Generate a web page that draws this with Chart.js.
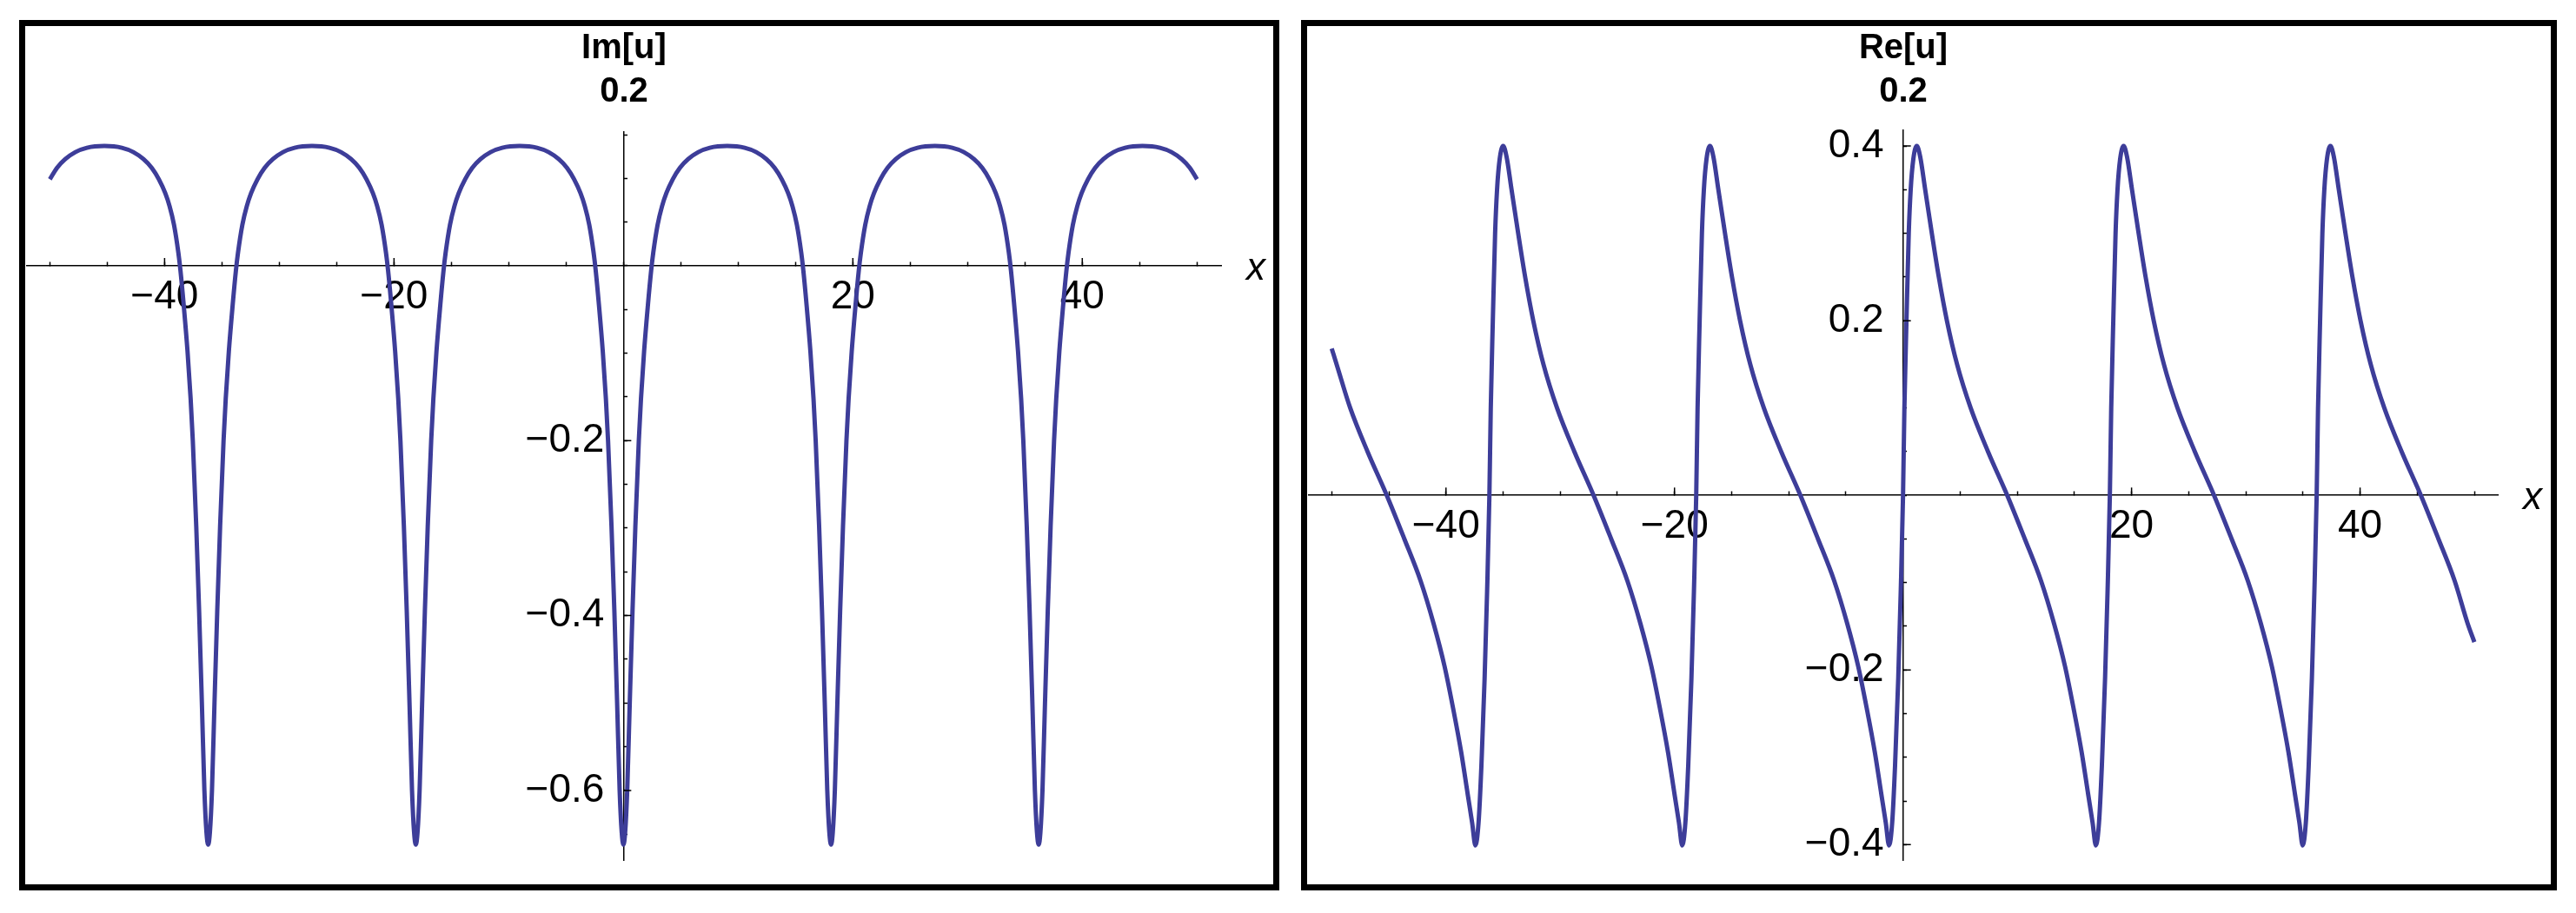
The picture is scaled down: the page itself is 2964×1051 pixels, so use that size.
<!DOCTYPE html>
<html>
<head>
<meta charset="utf-8">
<script src="https://cdn.jsdelivr.net/npm/chart.js@4.4.0/dist/chart.umd.min.js"></script>
<style>
  body { margin: 0; background: #fff; width: 2964px; height: 1051px; position: relative; overflow: hidden; }
  .panel { position: absolute; top: 23px; border: 7px solid #000; background: #fff; }
  #panelIm { left: 22px; }
  #panelRe { left: 1497px; }
  canvas { display: block; }
</style>
</head>
<body>
<div class="panel" id="panelIm"><canvas id="imChart" width="1436" height="988" style="width:1436px;height:988px"></canvas></div>
<div class="panel" id="panelRe"><canvas id="reChart" width="1431" height="988" style="width:1431px;height:988px"></canvas></div>
<script>
// values, one period per block
const imX = [
  -50, -49.38, -48.66, -47.78, -46.77, -45.25,
  -43.73, -42.72, -41.84, -41.12, -40.5, -39.94, -39.56, -39.18, -38.8, -38.62, -38.32, -38.0, -37.73, -37.54, -37.24, -36.99, -36.75, -36.53, -36.35, -36.2,
  -36.05, -35.87, -35.65, -35.41, -35.16, -34.86, -34.67, -34.4, -34.08, -33.78, -33.6, -33.22, -32.84, -32.46, -31.9, -31.28, -30.56, -29.68, -28.67, -27.15,
  -25.63, -24.62, -23.74, -23.02, -22.4, -21.84, -21.46, -21.08, -20.7, -20.52, -20.22, -19.9, -19.63, -19.44, -19.14, -18.89, -18.65, -18.43, -18.25, -18.1,
  -17.95, -17.77, -17.55, -17.31, -17.06, -16.76, -16.57, -16.3, -15.98, -15.68, -15.5, -15.12, -14.74, -14.36, -13.8, -13.18, -12.46, -11.58, -10.57, -9.05,
  -7.53, -6.52, -5.64, -4.92, -4.3, -3.74, -3.36, -2.98, -2.6, -2.42, -2.12, -1.8, -1.53, -1.34, -1.04, -0.79, -0.55, -0.33, -0.15, 0,
  0.15, 0.33, 0.55, 0.79, 1.04, 1.34, 1.53, 1.8, 2.12, 2.42, 2.6, 2.98, 3.36, 3.74, 4.3, 4.92, 5.64, 6.52, 7.53, 9.05,
  10.57, 11.58, 12.46, 13.18, 13.8, 14.36, 14.74, 15.12, 15.5, 15.68, 15.98, 16.3, 16.57, 16.76, 17.06, 17.31, 17.55, 17.77, 17.95, 18.1,
  18.25, 18.43, 18.65, 18.89, 19.14, 19.44, 19.63, 19.9, 20.22, 20.52, 20.7, 21.08, 21.46, 21.84, 22.4, 23.02, 23.74, 24.62, 25.63, 27.15,
  28.67, 29.68, 30.56, 31.28, 31.9, 32.46, 32.84, 33.22, 33.6, 33.78, 34.08, 34.4, 34.67, 34.86, 35.16, 35.41, 35.65, 35.87, 36.05, 36.2,
  36.35, 36.53, 36.75, 36.99, 37.24, 37.54, 37.73, 38.0, 38.32, 38.62, 38.8, 39.18, 39.56, 39.94, 40.5, 41.12, 41.84, 42.72, 43.73, 45.25,
  46.77, 47.78, 48.66, 49.38, 50
];
const imY = [
  0.099, 0.112, 0.122, 0.130, 0.135, 0.137,
  0.135, 0.130, 0.122, 0.112, 0.099, 0.083, 0.068, 0.047, 0.015, -0.005, -0.047, -0.098, -0.152, -0.200, -0.298, -0.395, -0.500, -0.600, -0.648, -0.662,
  -0.648, -0.600, -0.500, -0.395, -0.298, -0.200, -0.152, -0.098, -0.047, -0.005, 0.015, 0.047, 0.068, 0.083, 0.099, 0.112, 0.122, 0.130, 0.135, 0.137,
  0.135, 0.130, 0.122, 0.112, 0.099, 0.083, 0.068, 0.047, 0.015, -0.005, -0.047, -0.098, -0.152, -0.200, -0.298, -0.395, -0.500, -0.600, -0.648, -0.662,
  -0.648, -0.600, -0.500, -0.395, -0.298, -0.200, -0.152, -0.098, -0.047, -0.005, 0.015, 0.047, 0.068, 0.083, 0.099, 0.112, 0.122, 0.130, 0.135, 0.137,
  0.135, 0.130, 0.122, 0.112, 0.099, 0.083, 0.068, 0.047, 0.015, -0.005, -0.047, -0.098, -0.152, -0.200, -0.298, -0.395, -0.500, -0.600, -0.648, -0.662,
  -0.648, -0.600, -0.500, -0.395, -0.298, -0.200, -0.152, -0.098, -0.047, -0.005, 0.015, 0.047, 0.068, 0.083, 0.099, 0.112, 0.122, 0.130, 0.135, 0.137,
  0.135, 0.130, 0.122, 0.112, 0.099, 0.083, 0.068, 0.047, 0.015, -0.005, -0.047, -0.098, -0.152, -0.200, -0.298, -0.395, -0.500, -0.600, -0.648, -0.662,
  -0.648, -0.600, -0.500, -0.395, -0.298, -0.200, -0.152, -0.098, -0.047, -0.005, 0.015, 0.047, 0.068, 0.083, 0.099, 0.112, 0.122, 0.130, 0.135, 0.137,
  0.135, 0.130, 0.122, 0.112, 0.099, 0.083, 0.068, 0.047, 0.015, -0.005, -0.047, -0.098, -0.152, -0.200, -0.298, -0.395, -0.500, -0.600, -0.648, -0.662,
  -0.648, -0.600, -0.500, -0.395, -0.298, -0.200, -0.152, -0.098, -0.047, -0.005, 0.015, 0.047, 0.068, 0.083, 0.099, 0.112, 0.122, 0.130, 0.135, 0.137,
  0.135, 0.130, 0.122, 0.112, 0.099
];

const reX = [
  -50, -49.57, -48.38, -46.86, -45.18, -43.67, -42.22, -41.08, -40.12, -39.36, -38.67, -38.09, -37.71, -37.42,
  -37.15, -36.9, -36.62, -36.4, -36.2, -36.08, -35.9, -35.7, -35.53, -35.3, -35.0, -34.7, -34.26, -33.68, -33.07,
  -32.36, -31.47, -30.28, -28.76, -27.08, -25.57, -24.12, -22.98, -22.02, -21.26, -20.57, -19.99, -19.61, -19.32,
  -19.05, -18.8, -18.52, -18.3, -18.1, -17.98, -17.8, -17.6, -17.43, -17.2, -16.9, -16.6, -16.16, -15.58, -14.97,
  -14.26, -13.37, -12.18, -10.66, -8.98, -7.47, -6.02, -4.88, -3.92, -3.16, -2.47, -1.89, -1.51, -1.22,
  -0.95, -0.7, -0.42, -0.2, 0, 0.12, 0.3, 0.5, 0.67, 0.9, 1.2, 1.5, 1.94, 2.52, 3.13,
  3.84, 4.73, 5.92, 7.44, 9.12, 10.63, 12.08, 13.22, 14.18, 14.94, 15.63, 16.21, 16.59, 16.88,
  17.15, 17.4, 17.68, 17.9, 18.1, 18.22, 18.4, 18.6, 18.77, 19.0, 19.3, 19.6, 20.04, 20.62, 21.23,
  21.94, 22.83, 24.02, 25.54, 27.22, 28.73, 30.18, 31.32, 32.28, 33.04, 33.73, 34.31, 34.69, 34.98,
  35.25, 35.5, 35.78, 36.0, 36.2, 36.32, 36.5, 36.7, 36.87, 37.1, 37.4, 37.7, 38.14, 38.72, 39.33,
  40.04, 40.93, 42.12, 43.64, 45.32, 46.83, 48.28, 49.42, 50
];
const reY = [
  0.168, 0.150, 0.100, 0.050, 0, -0.049, -0.098, -0.147, -0.196, -0.245, -0.294, -0.343, -0.375, -0.401,
  -0.375, -0.310, -0.210, -0.110, 0, 0.100, 0.200, 0.300, 0.350, 0.385, 0.400, 0.388, 0.350, 0.300, 0.250,
  0.200, 0.150, 0.100, 0.050, 0, -0.049, -0.098, -0.147, -0.196, -0.245, -0.294, -0.343, -0.375, -0.401,
  -0.375, -0.310, -0.210, -0.110, 0, 0.100, 0.200, 0.300, 0.350, 0.385, 0.400, 0.388, 0.350, 0.300, 0.250,
  0.200, 0.150, 0.100, 0.050, 0, -0.049, -0.098, -0.147, -0.196, -0.245, -0.294, -0.343, -0.375, -0.401,
  -0.375, -0.310, -0.210, -0.110, 0, 0.100, 0.200, 0.300, 0.350, 0.385, 0.400, 0.388, 0.350, 0.300, 0.250,
  0.200, 0.150, 0.100, 0.050, 0, -0.049, -0.098, -0.147, -0.196, -0.245, -0.294, -0.343, -0.375, -0.401,
  -0.375, -0.310, -0.210, -0.110, 0, 0.100, 0.200, 0.300, 0.350, 0.385, 0.400, 0.388, 0.350, 0.300, 0.250,
  0.200, 0.150, 0.100, 0.050, 0, -0.049, -0.098, -0.147, -0.196, -0.245, -0.294, -0.343, -0.375, -0.401,
  -0.375, -0.310, -0.210, -0.110, 0, 0.100, 0.200, 0.300, 0.350, 0.385, 0.400, 0.388, 0.350, 0.300, 0.250,
  0.200, 0.150, 0.100, 0.050, 0, -0.049, -0.098, -0.147, -0.168
];

const xTickLabels = [-40, -20, 20, 40];
const imYTickLabels = [-0.6, -0.4, -0.2];
const reYTickLabels = [-0.4, -0.2, 0.2, 0.4];
const xAxisName = 'x';
const paramLabel = '0.2';

Chart.defaults.font.family = '"Liberation Sans", Arial, Helvetica, sans-serif';
Chart.defaults.color = '#000';

const fmt = v => (v < 0 ? '\u2212' : '') + String(Math.abs(v));

function pickLabel(list, gap) {
  return function (value) {
    const hit = list.find(t => Math.abs(t - value) < 1e-6);
    return hit === undefined ? '' : fmt(hit) + gap;
  };
}

// longer ticks at the labelled values, and the "x" name past the axis end
const axisExtras = {
  id: 'axisExtras',
  afterDraw(chart, args, opts) {
    const {ctx, chartArea, scales} = chart;
    const x0 = scales.x.getPixelForValue(0);
    const y0 = scales.y.getPixelForValue(0);
    ctx.save();
    ctx.strokeStyle = '#000';
    ctx.lineWidth = 1.5;
    ctx.beginPath();
    xTickLabels.forEach(v => {
      const px = scales.x.getPixelForValue(v);
      ctx.moveTo(px, y0);
      ctx.lineTo(px, y0 - opts.majorLength);
    });
    opts.yLabels.forEach(v => {
      const py = scales.y.getPixelForValue(v);
      ctx.moveTo(x0, py);
      ctx.lineTo(x0 + opts.majorLength, py);
    });
    ctx.stroke();
    ctx.font = 'italic 44px "Liberation Sans", Arial, sans-serif';
    ctx.fillStyle = '#000';
    ctx.textBaseline = 'alphabetic';
    ctx.fillText(opts.text, chartArea.right + opts.gap, y0 + 16);
    ctx.restore();
  }
};

function makeChart(id, xs, ys, cfg) {
  const points = xs.map((x, i) => ({x: x, y: ys[i]}));
  const axisGrid = {
    display: true,
    drawOnChartArea: false,
    drawTicks: true,
    tickLength: -5,
    tickColor: '#000',
    tickWidth: 1.5
  };
  const axisBorder = {display: true, color: '#000', width: 1.5};

  return new Chart(document.getElementById(id), {
    type: 'line',
    data: {
      datasets: [{
        data: points,
        borderColor: '#3d3d99',
        borderWidth: 5,
        pointRadius: 0,
        fill: false,
        cubicInterpolationMode: 'monotone',
        borderJoinStyle: 'round'
      }]
    },
    options: {
      responsive: false,
      animation: false,
      devicePixelRatio: 1,
      layout: {padding: cfg.padding},
      plugins: {
        legend: {display: false},
        tooltip: {enabled: false},
        title: {
          display: true,
          text: [cfg.title, paramLabel],
          fullSize: false,
          color: '#000',
          font: {size: 40, weight: 'bold', lineHeight: '50px'},
          padding: {top: 1, bottom: cfg.titleGap}
        },
        axisExtras: {text: xAxisName, gap: 29, majorLength: 9, yLabels: cfg.yLabels}
      },
      scales: {
        x: {
          type: 'linear',
          position: {y: 0},
          min: cfg.xMin,
          max: cfg.xMax,
          ticks: {
            stepSize: 5,
            includeBounds: false,
            autoSkip: false,
            maxRotation: 0,
            padding: 14,
            color: '#000',
            font: {size: 46},
            callback: pickLabel(xTickLabels, '')
          },
          grid: axisGrid,
          border: axisBorder
        },
        y: {
          type: 'linear',
          position: {x: 0},
          min: cfg.yMin,
          max: cfg.yMax,
          ticks: {
            stepSize: 0.05,
            includeBounds: false,
            autoSkip: false,
            padding: 0,
            color: '#000',
            font: {size: 46},
            callback: pickLabel(cfg.yLabels, ' \u2009')
          },
          grid: axisGrid,
          border: axisBorder
        }
      }
    },
    plugins: [axisExtras]
  });
}

makeChart('imChart', imX, imY, {
  title: 'Im[u]',
  xMin: -52, xMax: 52.1,
  yMin: -0.68, yMax: 0.153,
  yLabels: imYTickLabels,
  padding: {left: 2, right: 60, top: 0, bottom: 4},
  titleGap: 21
});

makeChart('reChart', reX, reY, {
  title: 'Re[u]',
  xMin: -52, xMax: 52.05,
  yMin: -0.418, yMax: 0.418,
  yLabels: reYTickLabels,
  padding: {left: 2, right: 61, top: 0, bottom: 14},
  titleGap: 19
});
</script>
</body>
</html>
